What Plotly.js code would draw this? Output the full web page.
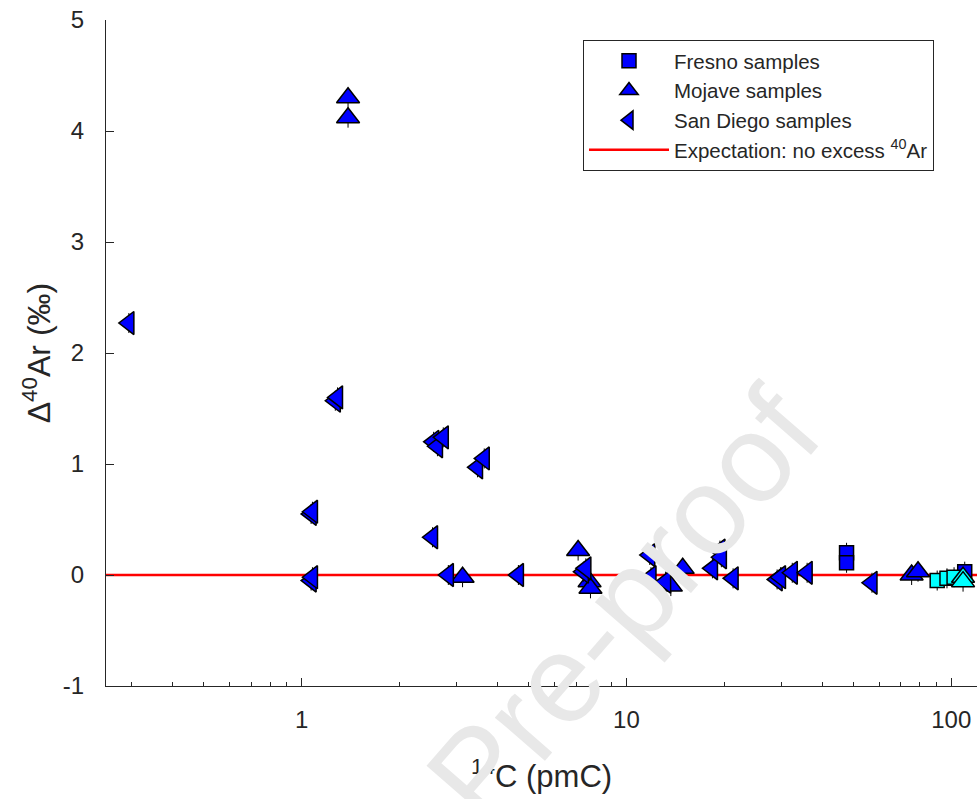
<!DOCTYPE html>
<html>
<head>
<meta charset="utf-8">
<script src="https://cdn.plot.ly/plotly-3.0.1.min.js"></script>
<style>html,body{margin:0;padding:0;background:#fff;}#chart{width:977px;height:799px;}</style>
</head>
<body>
<div id="chart"></div>
<script>
// Fresno samples (blue squares)
const fresnoX = [47.6, 47.6, 110];
const fresnoY = [0.20, 0.11, 0.03];
// Mojave samples (blue up-triangles)
const mojaveX = [1.39, 1.39, 3.13, 7.1, 7.7, 7.75, 13.7, 14.9, 75.5, 79];
const mojaveY = [4.30, 4.12, -0.02, 0.22, -0.06, -0.12, -0.10, 0.06, 0.00, 0.03];
// San Diego samples (blue left-triangles)
const sandiegoX = [0.294, 1.27, 1.29, 1.07, 1.08, 1.07, 1.08, 2.55, 2.62, 2.73, 2.53, 2.83,
  3.48, 3.65, 4.65, 7.37, 7.5, 11.8, 11.9, 13.2, 18.4, 19.4, 19.6, 21.3, 29.1, 29.8, 32.4, 36.0, 57.0];
const sandiegoY = [2.27, 1.57, 1.60, 0.55, 0.57, -0.05, -0.02, 1.20, 1.16, 1.24, 0.34, 0.00,
  0.97, 1.05, 0.00, 0.03, 0.06, 0.18, -0.02, -0.06, 0.06, 0.22, 0.16, -0.03, -0.04, -0.02, 0.02, 0.02, -0.07];
// Modern samples (cyan, not in legend)
const modernSqX = [90.5, 97, 102];
const modernSqY = [-0.05, -0.03, -0.02];
const modernTriX = [108.7, 108.7];
const modernTriY = [-0.02, -0.06];
// Expectation line
const expX = [0.25, 120];
const expY = [0, 0];
// Axis ticks
const xTickVals = [1, 10, 100];
const xTickText = ['1', '10', '100'];
const yTickVals = [-1, 0, 1, 2, 3, 4, 5];
const yTickText = ['-1', '0', '1', '2', '3', '4', '5'];

const errC = 0.09;
function errs(){ return {type:'constant', value:errC, color:'#000', thickness:1, width:0, visible:true}; }

const mk = (sym, color, size) => ({symbol:sym, color:color, size:size, line:{color:'#000', width:1.5}});

const lineTrace = {x: expX, y: expY, mode:'lines', type:'scatter', name:'Expectation: no excess <sup>40</sup>Ar',
   line:{color:'#ff0000', width:2.5}, legendrank:1000};
const data = [
  lineTrace,
  {x: fresnoX, y: fresnoY, mode:'markers', type:'scatter', name:'Fresno samples', legendrank:1,
   marker: mk('square','#0000ff',14), error_y: errs()},
  {x: mojaveX, y: mojaveY, mode:'markers', type:'scatter', name:'Mojave samples', legendrank:2,
   marker: mk('triangle-up','#0000ff',20), error_y: errs()},
  {x: sandiegoX, y: sandiegoY, mode:'markers', type:'scatter', name:'San Diego samples', legendrank:3,
   marker: mk('triangle-left','#0000ff',20), error_y: errs()},
  {x: modernSqX, y: modernSqY, mode:'markers', type:'scatter', showlegend:false,
   marker: mk('square','#00ffff',14), error_y: errs()},
  {x: modernTriX, y: modernTriY, mode:'markers', type:'scatter', showlegend:false,
   marker: mk('triangle-up','#00ffff',20), error_y: errs()}
];

const minorVals = [];
[0.1,1,10].forEach(d => { for (let k=2;k<=9;k++) minorVals.push(k*d); });

const layout = {
  width: 977, height: 799,
  margin: {l:106, r:0, t:20, b:113},
  paper_bgcolor:'#fff', plot_bgcolor:'#fff',
  font: {family:'Liberation Sans, Arial, sans-serif', color:'#262626'},
  showlegend: true,
  legend: {x:(583-106)/871, y:(686-40)/666, xanchor:'left', yanchor:'top', bgcolor:'#fff',
    bordercolor:'#262626', borderwidth:1, font:{size:20.5, color:'#262626'}, tracegroupgap:0,
    traceorder:'normal', itemwidth:80},
  xaxis: {type:'log', range:[Math.log10(0.25), Math.log10(120)], showgrid:false, zeroline:false,
    showline:true, linecolor:'#262626', linewidth:1, ticks:'inside', ticklen:8, tickcolor:'#262626',
    tickmode:'array', tickvals:xTickVals, ticktext:xTickText,
    tickfont:{size:24, color:'#262626'}, ticklabelstandoff:12,
    minor:{ticks:'inside', ticklen:4, tickcolor:'#262626', tickmode:'array', tickvals:minorVals, showgrid:false},
    title:{text:'<sup>14</sup>C (pmC)', font:{size:31, color:'#262626'}, standoff:33}},
  yaxis: {range:[-1,5], showgrid:false, zeroline:false, showline:true, linecolor:'#262626', linewidth:1,
    ticks:'inside', ticklen:8, tickcolor:'#262626', tickmode:'array', tickvals:yTickVals, ticktext:yTickText,
    tickfont:{size:24, color:'#262626'}, ticklabelstandoff:16,
    title:{text:'Δ<sup>40</sup>Ar (‰)', font:{size:32, color:'#262626'}, standoff:2}},
  annotations: [
    {text:'Pre-proof', xref:'paper', yref:'paper', x:(622-106)/871, y:(686-605)/666,
     xanchor:'center', yanchor:'middle',
     showarrow:false, textangle:-49, font:{size:125, color:'#e8e8e8', family:'Liberation Sans, Arial, sans-serif'}}
  ]
};

Plotly.newPlot('chart', data, layout, {displayModeBar:false, staticPlot:true});
</script>
</body>
</html>
